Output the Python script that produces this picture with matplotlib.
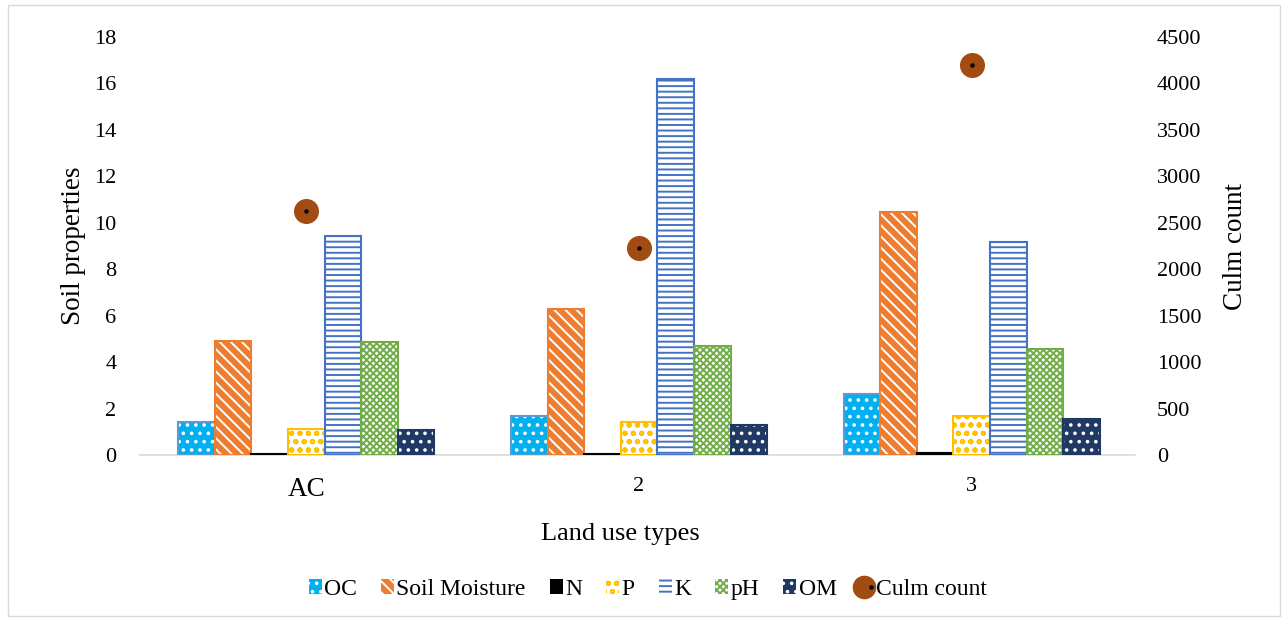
import matplotlib
matplotlib.use("Agg")
import matplotlib.pyplot as plt
import numpy as np
from matplotlib.patches import Rectangle, Patch
from matplotlib.lines import Line2D
from matplotlib.legend_handler import HandlerTuple

plt.rcParams['font.family'] = ['Liberation Serif', 'DejaVu Serif']
plt.rcParams['hatch.linewidth'] = 1.4

categories = ["AC", "2", "3"]
series_names = ["OC", "Soil Moisture", "N", "P", "K", "pH", "OM"]
OC = [1.42, 1.68, 2.63]
soil_moisture = [4.90, 6.29, 10.47]
N = [0.05, 0.06, 0.08]
P = [1.12, 1.42, 1.68]
K = [9.44, 16.20, 9.18]
pH = [4.87, 4.70, 4.57]
OM = [1.08, 1.29, 1.55]
culm_count = [2625, 2230, 4200]

values = [OC, soil_moisture, N, P, K, pH, OM]
# (face, hatch colour, hatch, border)
styles = [
    ("#00B0F0", "white", "..", "#5B9BD5"),
    ("#ED7D31", "white", "\\\\\\", "#ED7D31"),
    ("black", "black", "", "black"),
    ("white", "#FFC000", "oo", "#FFC000"),
    ("white", "#4472C4", "---", "#4472C4"),
    ("white", "#70AD47", "xxxxx", "#70AD47"),
    ("#203864", "white", "..", "#203864"),
]

fig = plt.figure(figsize=(12.88, 6.21), dpi=100)
ax = fig.add_axes([0.1087, 0.2673, 0.7723, 0.6731])
ax2 = ax.twinx()

x = np.arange(len(categories))
w = 0.11
handles = []
for i, (vals, st) in enumerate(zip(values, styles)):
    face, hc, hatch, border = st
    pos = x + (i - 3) * w
    ax.bar(pos, vals, w, color=face, edgecolor=hc, hatch=hatch, linewidth=0, zorder=2)
    ax.bar(pos, vals, w, fill=False, edgecolor=border, linewidth=1.5, zorder=3)
    handles.append(Patch(facecolor=face, edgecolor=hc, hatch=hatch, linewidth=0))

culm_color = "#A24B12"
ax2.plot(x, culm_count, 'o', markersize=17, color=culm_color, zorder=4)
ax2.plot(x, culm_count, 'o', markersize=2.2, color='black', zorder=5)
culm_h = (Line2D([], [], marker='o', ls='', markersize=16, color=culm_color),
          Line2D([], [], marker='o', ls='', markersize=2.2, color='black'))
handles.append(culm_h)

ax.set_xlim(-0.5, 2.49)
ax.set_ylim(0, 18)
ax.set_yticks(np.arange(0, 19, 2))
ax2.set_ylim(0, 4500)
ax2.set_yticks(np.arange(0, 4501, 500))
ax.set_xticks(x)
for a in (ax, ax2):
    for s in a.spines.values():
        s.set_visible(False)
    a.tick_params(length=0, labelsize=16)
ax.set_xticklabels(categories)
ax.get_xticklabels()[0].set_fontsize(19.5)
for lab in ax.get_xticklabels()[1:]:
    lab.set_fontsize(16)
ax.spines['bottom'].set_visible(True)
ax.spines['bottom'].set_color('#D9D9D9')
ax.spines['bottom'].set_linewidth(1.2)
ax.tick_params(axis='y', pad=17)
ax.tick_params(axis='x', pad=16)
ax2.tick_params(axis='y', pad=16)

ax.set_ylabel("Soil properties", fontsize=19.5)
ax2.set_ylabel("Culm count", fontsize=19.5)
ax.set_xlabel("Land use types", fontsize=19)
ax.yaxis.set_label_coords(-0.0545, 0.5)
ax2.yaxis.set_label_coords(1.0884, 0.5)
ax.xaxis.set_label_coords(0.4834, -0.163)

leg = fig.legend(handles, series_names + ["Culm count"], loc='center', bbox_to_anchor=(0.503, 0.051),
                 ncol=8, frameon=False, fontsize=17, handlelength=0.55, handleheight=0.55,
                 handletextpad=0.1, columnspacing=1.02,
                 handler_map={tuple: HandlerTuple(ndivide=None, pad=0)})

fig.patches.append(Rectangle((0.006, 0.008), 0.988, 0.984, transform=fig.transFigure,
                             fill=False, edgecolor='#D9D9D9', linewidth=1))

fig.savefig("out.png", dpi=100)
